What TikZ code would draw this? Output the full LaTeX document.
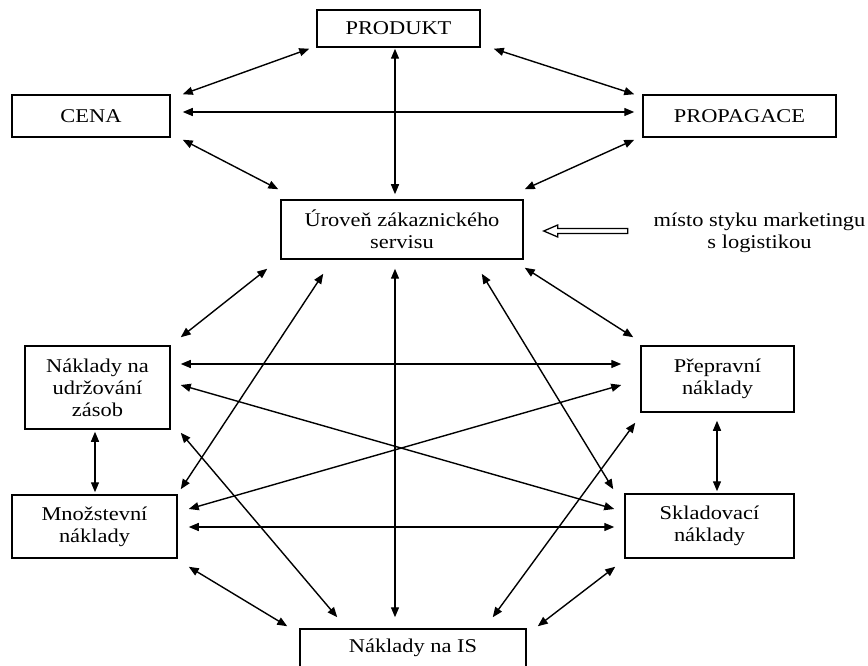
\documentclass[tikz,border=0pt]{standalone}
\usepackage{fontspec}
\setmainfont{Liberation Serif}[FakeStretch=1.15]
\usetikzlibrary{arrows.meta,positioning}

\begin{document}
\begin{tikzpicture}[x=1pt,y=1pt,
    box/.style={rectangle,draw,line width=1.5pt,inner sep=0pt,
		align=center,font=\fontsize{19.5}{22}\selectfont},
    link/.style={<->,>={Triangle[length=10pt,width=8pt]},line width=1.4pt},
    hollow/.style={draw,line width=1.3pt,fill=white}
]
    \useasboundingbox (0,0) rectangle (868,665);

    \node (produkt) [box,minimum width=163pt,minimum height=37pt] at (398.5,636.5) {PRODUKT};
    \node (cena) [box,minimum width=158pt,minimum height=42pt] at (91,549) {CENA};
    \node (propagace) [box,minimum width=193pt,minimum height=42pt] at (739.5,549) {PROPAGACE};
    \node (uroven) [box,minimum width=242pt,minimum height=59pt] at (402,435.5)
	     {Úroveň zákaznického\\servisu};
    \node (styk) [align=center,font=\fontsize{19.5}{22}\selectfont] at (759.5,432.5)
	     {místo styku marketingu\\s logistikou};
    \node (udrz) [box,minimum width=145pt,minimum height=83pt] at (97.5,277.5)
	     {Náklady na\\udržování\\zásob};
    \node (preprav) [box,minimum width=153pt,minimum height=66pt] at (717.5,286)
	     {Přepravní\\náklady};
    \node (mnozst) [box,minimum width=165pt,minimum height=63pt] at (94.5,138.5)
	     {Množstevní\\náklady};
    \node (sklad) [box,minimum width=169pt,minimum height=64pt] at (709.5,139)
	     {Skladovací\\náklady};
    \node (is) [box,minimum width=226pt,minimum height=38pt] at (413,17) {Náklady na IS};

    % marketingovy mix
    \draw[link] ([shift={(12,0)}]cena.north east) -- ([shift={(-7,-1)}]produkt.south west);
    \draw[link] ([shift={(13,-1)}]produkt.south east) -- ([shift={(-8,0)}]propagace.north west);
    \draw[link] ([shift={(12,4)}]cena.east) -- ([shift={(-8,4)}]propagace.west);
    \draw[link] ([shift={(-3.5,-1)}]produkt.south) -- ([shift={(-7,5)}]uroven.north);
    \draw[link] ([shift={(12,-2)}]cena.south east) -- ([shift={(-2,10)}]uroven.north west);
    \draw[link] ([shift={(-8,-2)}]propagace.south west) -- ([shift={(1,10)}]uroven.north east);

    % logisticke naklady
    \draw[link] ([shift={(-13,-9)}]uroven.south west) -- ([shift={(10,8)}]udrz.north east);
    \draw[link] ([shift={(43,-14)}]uroven.south west) -- ([shift={(3,5)}]mnozst.north east);
    \draw[link] ([shift={(-7,-9)}]uroven.south) -- ([shift={(-18,11)}]is.north);
    \draw[link] ([shift={(-42,-14)}]uroven.south east) -- ([shift={(-11,4)}]sklad.north west);
    \draw[link] ([shift={(1,-8)}]uroven.south east) -- ([shift={(-7,8)}]preprav.north west);
    \draw[link] ([shift={(10,23.5)}]udrz.east) -- ([shift={(-19,15)}]preprav.west);
    \draw[link] ([shift={(10,2.5)}]udrz.east) -- ([shift={(-10,17)}]sklad.west);
    \draw[link] ([shift={(-2.5,-2)}]udrz.south) -- ([shift={(0.5,2)}]mnozst.north);
    \draw[link] ([shift={(10,-3)}]udrz.south east) -- ([shift={(38,11)}]is.north west);
    \draw[link] ([shift={(-19,-6)}]preprav.west) -- ([shift={(11,17.5)}]mnozst.east);
    \draw[link] ([shift={(-0.5,-8)}]preprav.south) -- ([shift={(7.5,2)}]sklad.north);
    \draw[link] ([shift={(-5,-10)}]preprav.south west) -- ([shift={(-34,11)}]is.north east);
    \draw[link] ([shift={(11,-0.5)}]mnozst.east) -- ([shift={(-10,-1)}]sklad.west);
    \draw[link] ([shift={(11,-8)}]mnozst.south east) -- ([shift={(-12,2)}]is.north west);
    \draw[link] ([shift={(-9,-8)}]sklad.south west) -- ([shift={(11,2)}]is.north east);

    % misto styku
    \coordinate (tip) at ([shift={(20,-1.5)}]uroven.east);
    \draw[hollow] (tip) -- ++(14,6) -- ++(0,-3.5) -- ++(70,0) -- ++(0,-5)
	     -- ++(-70,0) -- ++(0,-3.5) -- cycle;
\end{tikzpicture}
\end{document}
